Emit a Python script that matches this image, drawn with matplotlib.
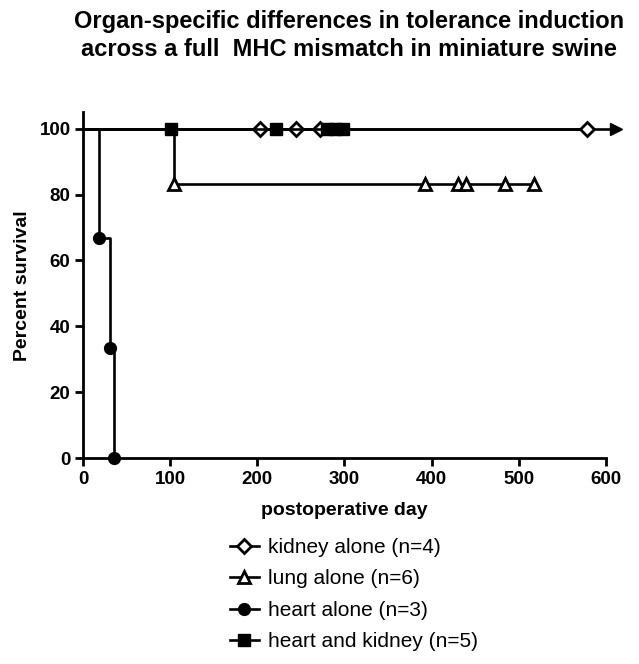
import matplotlib
matplotlib.use("Agg")
import matplotlib.pyplot as plt
from matplotlib.lines import Line2D

plt.rcParams['font.family'] = ['Liberation Sans', 'DejaVu Sans']

# survival data (days) - deaths drop the curve, censored marks stay on the line
kidney_days = [203, 244, 272, 579]
kidney_pct = [100, 100, 100, 100]

lung_days = [104, 392, 430, 440, 484, 518]
lung_pct = [83.3, 83.3, 83.3, 83.3, 83.3, 83.3]

heart_days = [18, 31, 35]
heart_pct = [66.7, 33.3, 0]

hk_days = [101, 222, 280, 289, 298]
hk_pct = [100, 100, 100, 100, 100]

labels = ['kidney alone (n=4)', 'lung alone (n=6)', 'heart alone (n=3)', 'heart and kidney (n=5)']
arrow_day = 612


def step_xy(days, pct, deaths):
        # build a kaplan-meier step line from the event list
        xs = [0]
        ys = [100]
        cur = 100
        for d, p, dead in zip(days, pct, deaths):
                xs.append(d)
                ys.append(cur)
                if dead:
                        xs.append(d)
                        ys.append(p)
                cur = p
        return xs, ys


fig = plt.figure(figsize=(6.39, 6.64), dpi=100)
ax = fig.add_axes([0.130, 0.310, 0.818, 0.521])

lw = 1.9
mew = 2.0

# top line running past the axis with arrow
ax.plot([0, arrow_day], [100, 100], color='black', lw=lw, clip_on=False)
ax.plot([arrow_day], [100], marker='>', color='black', ms=9, clip_on=False)

kx, ky = step_xy(kidney_days, kidney_pct, [False] * 4)
ax.plot(kx, ky, color='black', lw=lw, clip_on=False)
ax.plot(kidney_days, kidney_pct, ls='none', marker='D', ms=7.5, mfc='white', mec='black', mew=mew, clip_on=False)

lx, ly = step_xy(lung_days, lung_pct, [True] + [False] * 5)
ax.plot(lx, ly, color='black', lw=lw, clip_on=False)
ax.plot(lung_days, lung_pct, ls='none', marker='^', ms=8.5, mfc='white', mec='black', mew=mew, clip_on=False)

hx, hy = step_xy(heart_days, heart_pct, [True] * 3)
ax.plot(hx, hy, color='black', lw=lw, clip_on=False)
ax.plot(heart_days, heart_pct, ls='none', marker='o', ms=8.5, color='black', clip_on=False)

sx, sy = step_xy(hk_days, hk_pct, [False] * 5)
ax.plot(sx, sy, color='black', lw=lw, clip_on=False)
ax.plot(hk_days, hk_pct, ls='none', marker='s', ms=8.5, color='black', clip_on=False)

ax.set_xlim(0, 600)
ax.set_ylim(0, 105)
ax.set_xticks([0, 100, 200, 300, 400, 500, 600])
ax.set_yticks([0, 20, 40, 60, 80, 100])
ax.spines['top'].set_visible(False)
ax.spines['right'].set_visible(False)
for s in ['left', 'bottom']:
        ax.spines[s].set_linewidth(2.0)
ax.tick_params(width=2.0, length=6, labelsize=13.5, direction='out', pad=3)
for t in ax.get_xticklabels() + ax.get_yticklabels():
        t.set_fontweight('bold')

ax.set_xlabel('postoperative day', fontsize=14, fontweight='bold', labelpad=10)
ax.set_ylabel('Percent survival', fontsize=14, fontweight='bold', labelpad=6)

fig.suptitle('Organ-specific differences in tolerance induction\nacross a full  MHC mismatch in miniature swine',
             x=0.546, y=0.985, fontsize=17, fontweight='bold', linespacing=1.3)

# legend entries
handles = [
        Line2D([], [], color='black', lw=lw, marker='D', ms=7.5, mfc='white', mec='black', mew=mew),
        Line2D([], [], color='black', lw=lw, marker='^', ms=8.5, mfc='white', mec='black', mew=mew),
        Line2D([], [], color='black', lw=lw, marker='o', ms=8.5),
        Line2D([], [], color='black', lw=lw, marker='s', ms=8.5),
]
fig.legend(handles, labels, loc='upper left', bbox_to_anchor=(0.33, 0.218), frameon=False,
           fontsize=15, handlelength=1.4, labelspacing=0.6, handletextpad=0.45)

plt.savefig('out.png', dpi=100)
